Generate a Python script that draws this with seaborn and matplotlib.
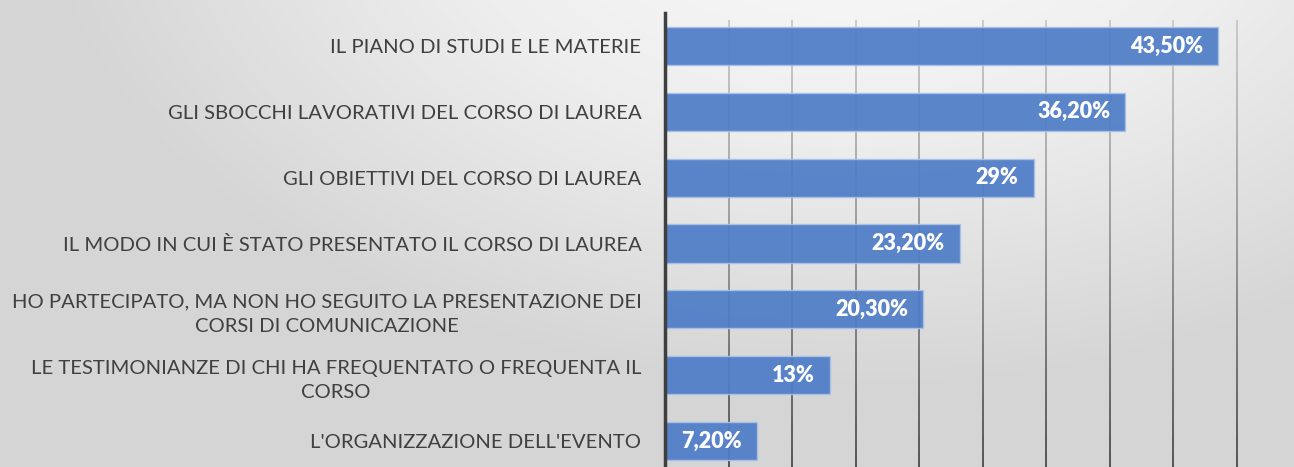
import numpy as np
import pandas as pd
import matplotlib
matplotlib.use("Agg")
import matplotlib.pyplot as plt
import seaborn as sns
from matplotlib.collections import LineCollection
from matplotlib.colors import LinearSegmentedColormap

categories = [
    "IL PIANO DI STUDI E LE MATERIE",
    "GLI SBOCCHI LAVORATIVI DEL CORSO DI LAUREA",
    "GLI OBIETTIVI DEL CORSO DI LAUREA",
    "IL MODO IN CUI È STATO PRESENTATO IL CORSO DI LAUREA",
    "HO PARTECIPATO, MA NON HO SEGUITO LA PRESENTAZIONE DEI\nCORSI DI COMUNICAZIONE",
    "LE TESTIMONIANZE DI CHI HA FREQUENTATO O FREQUENTA IL\nCORSO",
    "L'ORGANIZZAZIONE DELL'EVENTO",
]
values = [43.5, 36.2, 29.0, 23.2, 20.3, 13.0, 7.2]
value_labels = ["43,50%", "36,20%", "29%", "23,20%", "20,30%", "13%", "7,20%"]
grid_ticks = [5, 10, 15, 20, 25, 30, 35, 40, 45, 50]

df = pd.DataFrame({"cat": categories, "val": values})

sns.set_theme(style="white")
plt.rcParams["font.family"] = ["Lato", "DejaVu Sans"]

W, H = 1294, 467
fig = plt.figure(figsize=(W / 100, H / 100), dpi=100)

# background gradient
bg = fig.add_axes([0, 0, 1, 1], zorder=0)
yy, xx = np.mgrid[0:H, 0:W]
d = np.sqrt(((xx - 850) / 1.0) ** 2 + ((yy + 120) * 1.6) ** 2)
t = np.clip(d / 820, 0, 1)
cmap_bg = LinearSegmentedColormap.from_list("bg", ["#fbfbfb", "#eeeeee", "#d5d5d5"])
bg.imshow(t, cmap=cmap_bg, vmin=0, vmax=1, aspect="auto", extent=[0, W, H, 0])
bg.axis("off")

left_px, right_px, top_px, bottom_px = 665, 665 + 50 * 12.71, 13, 474
ax = fig.add_axes([left_px / W, (H - bottom_px) / H,
                   (right_px - left_px) / W, (bottom_px - top_px) / H], zorder=1)
ax.set_facecolor("none")

sns.barplot(data=df, y="cat", x="val", orient="h", color="#4f7dc7",
            width=0.58, ax=ax, saturation=1, alpha=0.93,
            edgecolor="#a9c1e8", linewidth=1, zorder=3)
ax.set_xlim(0, 50)
ax.set_ylim(6.5, -0.5)

# gradient gridlines
ny = 60
ys = np.linspace(-0.4, 6.5, ny + 1)
gcmap = LinearSegmentedColormap.from_list("g", ["#c4c4c4", "#8a8a8a", "#3a3a3a"])
for xt in grid_ticks:
    segs = [[(xt, ys[i]), (xt, ys[i + 1])] for i in range(ny)]
    cols = [gcmap(i / ny) for i in range(ny)]
    ax.add_collection(LineCollection(segs, colors=cols, linewidths=1.2, zorder=2))

for i, (v, lab) in enumerate(zip(values, value_labels)):
    ax.annotate(lab, xy=(v, i), xytext=(-15, 0), textcoords="offset pixels",
                ha="right", va="center", color="white", fontsize=15.5,
                fontweight="heavy", zorder=5)

ax.set_xlabel("")
ax.set_ylabel("")
ax.set_xticks([])
for s in ["top", "right", "bottom"]:
    ax.spines[s].set_visible(False)
ax.spines["left"].set_color("#3f3f3f")
ax.spines["left"].set_linewidth(2.5)
ax.spines["left"].set_zorder(6)
ax.tick_params(axis="y", length=0, pad=17)
for tl in ax.get_yticklabels():
    tl.set_fontsize(14.6)
    tl.set_color("#404040")
    tl.set_multialignment("center")
    tl.set_linespacing(1.5)

fig.savefig("out.png", dpi=100)
